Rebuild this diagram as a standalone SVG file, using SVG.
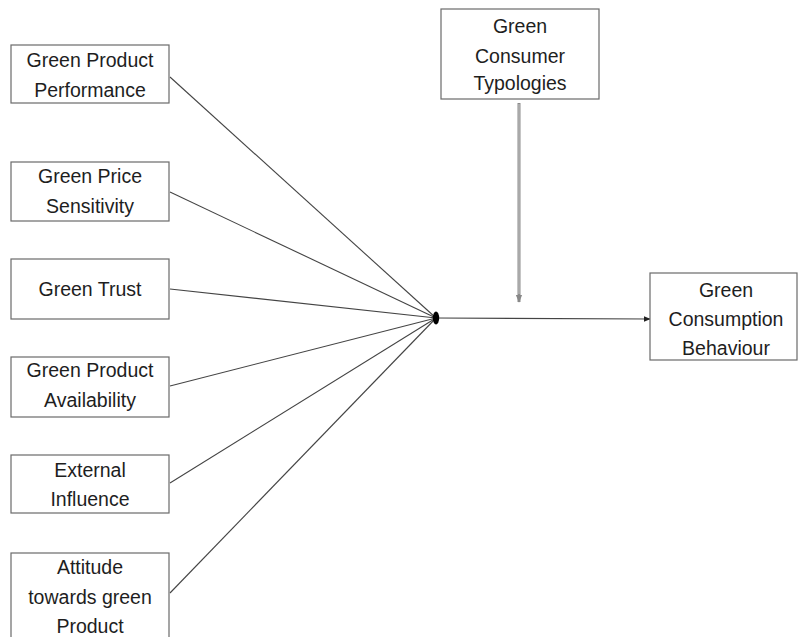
<svg xmlns="http://www.w3.org/2000/svg" width="798" height="637" viewBox="0 0 798 637">
<style>
.box{fill:#fff;stroke:#6a6a6a;stroke-width:1.2}
.t{font-family:"Liberation Sans",Arial,sans-serif;font-size:19.5px;fill:#1e1e1e;text-anchor:middle}
.ln{stroke:#444;stroke-width:1.1;fill:none}
</style>
<defs>
<marker id="ah" viewBox="0 0 10 10" refX="9" refY="5" markerWidth="7" markerHeight="7" markerUnits="userSpaceOnUse" orient="auto"><path d="M0,1 L10,5 L0,9 Z" fill="#222"/></marker>
<marker id="ahg" viewBox="0 0 10 10" refX="9" refY="5" markerWidth="8" markerHeight="8" markerUnits="userSpaceOnUse" orient="auto"><path d="M0,1 L10,5 L0,9 Z" fill="#888"/></marker>
</defs>
<rect width="798" height="637" fill="#fff"/>
<g id="connectors">
<line class="ln" x1="170" y1="77" x2="436" y2="318"/>
<line class="ln" x1="170" y1="192" x2="436" y2="318"/>
<line class="ln" x1="170" y1="289" x2="436" y2="318"/>
<line class="ln" x1="170" y1="386" x2="436" y2="318"/>
<line class="ln" x1="170" y1="483" x2="436" y2="318"/>
<line class="ln" x1="170" y1="593" x2="436" y2="318"/>
<line class="ln" x1="436" y1="318" x2="650" y2="319" marker-end="url(#ah)"/>
<line x1="519" y1="103" x2="519" y2="302" stroke="#8a8a8a" stroke-width="3" marker-end="url(#ahg)"/>
<line x1="519" y1="104" x2="519" y2="294" stroke="#c8c8c8" stroke-width="1"/>
<ellipse cx="436" cy="318" rx="3.2" ry="6.5" fill="#000"/>
</g>
<g id="n1"><rect class="box" x="11" y="45" width="158" height="58"/><text class="t" x="90" y="67">Green Product</text><text class="t" x="90" y="97">Performance</text></g>
<g id="n2"><rect class="box" x="11" y="162" width="158" height="59"/><text class="t" x="90" y="183">Green Price</text><text class="t" x="90" y="213">Sensitivity</text></g>
<g id="n3"><rect class="box" x="11" y="259" width="158" height="60"/><text class="t" x="90" y="296">Green Trust</text></g>
<g id="n4"><rect class="box" x="11" y="357" width="158" height="60"/><text class="t" x="90" y="377">Green Product</text><text class="t" x="90" y="407">Availability</text></g>
<g id="n5"><rect class="box" x="11" y="455" width="158" height="58"/><text class="t" x="90" y="477">External</text><text class="t" x="90" y="506">Influence</text></g>
<g id="n6"><rect class="box" x="11" y="553" width="158" height="100"/><text class="t" x="90" y="574">Attitude</text><text class="t" x="90" y="604">towards green</text><text class="t" x="90" y="633">Product</text></g>
<g id="n7"><rect class="box" x="441" y="9" width="158" height="90"/><text class="t" x="520" y="33">Green</text><text class="t" x="520" y="63">Consumer</text><text class="t" x="520" y="90">Typologies</text></g>
<g id="n8"><rect class="box" x="650" y="273" width="147" height="87"/><text class="t" x="726" y="297">Green</text><text class="t" x="726" y="326">Consumption</text><text class="t" x="726" y="355">Behaviour</text></g>
</svg>
